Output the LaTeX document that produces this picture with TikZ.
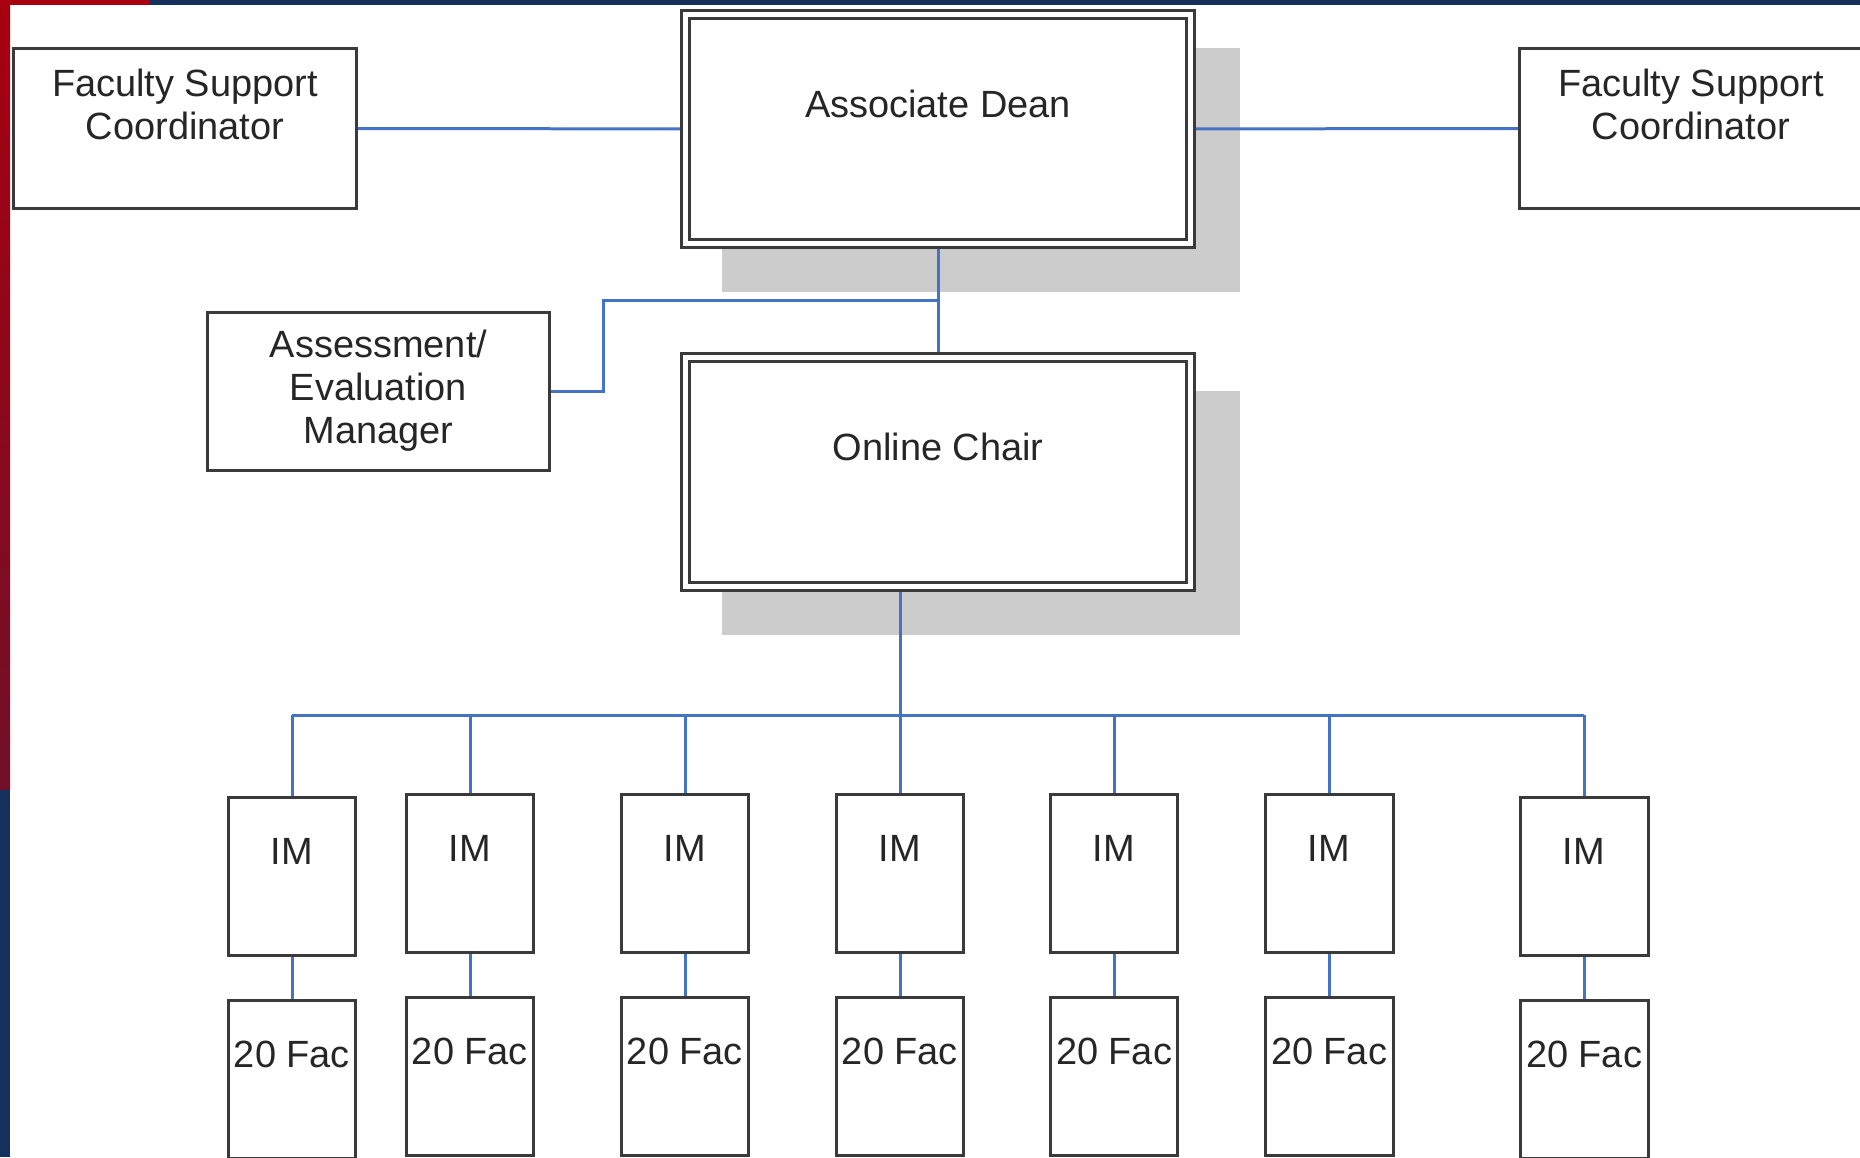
\documentclass[tikz,border=0pt]{standalone}
\usepackage{fontspec}
\setmainfont{Liberation Sans}
\usepackage{tikz}
\usetikzlibrary{positioning}
\usetikzlibrary{calc}
\definecolor{linkBlue}{RGB}{68,114,196}
\definecolor{boxGray}{RGB}{58,58,58}
\definecolor{shadeGray}{RGB}{204,204,204}
\definecolor{barRed}{RGB}{168,0,16}
\definecolor{barMaroon}{RGB}{112,16,40}
\definecolor{barNavy}{RGB}{22,48,94}
\pgfdeclarelayer{shadow}
\pgfdeclarelayer{background}
\pgfsetlayers{shadow,background,main}

\begin{document}
\begin{tikzpicture}[x=0.02cm,y=-0.02cm,
  every node/.style={font=\fontsize{21.6}{24.5}\selectfont, text=black!85},
  box/.style={draw=boxGray, line width=0.06cm, fill=white, align=center,
    text height=0.54cm, text depth=1.02cm},
  twoline/.style={box, text height=1.4cm, text depth=0.96cm},
  threeline/.style={box, text height=2.26cm, text depth=0.16cm},
  bigbox/.style={box, double=white, double distance=0.1cm,
    minimum width=10.1cm, minimum height=4.6cm},
  imbox/.style={box, inner xsep=2pt, minimum width=2.56cm, minimum height=3.16cm},
  link/.style={draw=linkBlue, line width=0.06cm},
]
\newcommand\DropShade[1]{\fill[shadeGray] ($(#1.south west)+(38,47)$) rectangle ($(#1.north east)+(48,35)$);}
\useasboundingbox (0,0) rectangle (1860,1157);

% frame of the slide
\shade[top color=barRed, bottom color=barMaroon] (0,0) rectangle (10,790);
\fill[barNavy] (0,790) rectangle (10,1157);
\fill[barNavy] (150,0) rectangle (1860,5);
\fill[barRed] (0,0) rectangle (150,5);

\node[twoline, minimum width=6.86cm, minimum height=3.2cm] (fscl) at (185,128.5) {Faculty Support\\Coordinator};
\node[twoline, minimum width=6.86cm, minimum height=3.2cm] (fscr) at (1691,128.5) {Faculty Support\\Coordinator};
\node[bigbox] (ad) at (938,129) {Associate Dean};
\node[bigbox] (oc) at (938,472) {Online Chair};
\node[threeline, minimum width=6.84cm, minimum height=3.16cm] (asm) at (378.5,391.5) {Assessment/\\Evaluation\\Manager};

\foreach \i/\x/\y in {1/292/876.5,2/470/873.5,3/685/873.5,4/900/873.5,5/1114/873.5,6/1329/873.5,7/1584/876.5}{
  \node[imbox] (im\i) at (\x,\y) {IM};
  \node[imbox] (fac\i) at (\x,\y+203) {20 Fac};
}

\begin{pgfonlayer}{shadow}
\DropShade{ad}
\DropShade{oc}
\end{pgfonlayer}

\begin{pgfonlayer}{background}
\draw[link] (fscl) -- (ad);
\draw[link] (ad) -- (fscr);
\draw[link] (ad) -- (oc);
\coordinate (asmjoin) at ($(ad.south)!0.5!(oc.north)$);
\draw[link] (asm.east) -- +(53,0) |- (asmjoin);
\coordinate (bus) at (900,715);
\draw[link] (oc.south -| im4) -- (im4);
\draw[link] (im1.north |- bus) -- (im7.north |- bus);
\foreach \i in {1,...,7}{
  \draw[link] (im\i) -- (im\i.north |- bus);
  \draw[link] (im\i) -- (fac\i);
}
\end{pgfonlayer}
\end{tikzpicture}
\end{document}
